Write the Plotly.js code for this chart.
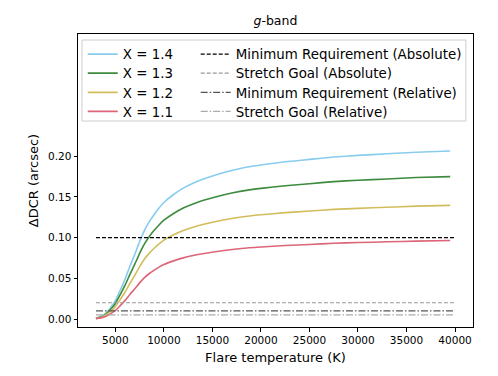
<!DOCTYPE html>
<html>
<head>
<meta charset="utf-8">
<script src="https://cdn.plot.ly/plotly-3.0.1.min.js"></script>
<style>html,body{margin:0;padding:0;background:#fff;}#chart{width:498px;height:376px;}</style>
</head>
<body>
<div id="chart"></div>
<script>
// Flare temperature (K)
const temps = [3000, 3500, 4000, 4500, 5000, 5500, 6000, 6500, 7000, 7500, 8000, 8500, 9000, 9500, 10000, 11000, 12000, 13000, 14000, 16000, 18000, 20000, 22500, 25000, 27500, 30000, 33000, 36000, 39500];
// ΔDCR (arcsec) per airmass
const dcrX14 = [0.001, 0.003, 0.007, 0.014, 0.0225, 0.0353, 0.049, 0.0647, 0.0794, 0.0951, 0.1088, 0.1196, 0.1284, 0.1362, 0.1431, 0.1529, 0.1607, 0.1666, 0.1715, 0.1793, 0.1852, 0.1891, 0.1931, 0.196, 0.1989, 0.2009, 0.2029, 0.2048, 0.2063];
const dcrX13 = [0.0008, 0.0025, 0.0058, 0.0116, 0.0191, 0.0299, 0.0416, 0.0548, 0.0673, 0.0806, 0.0922, 0.1014, 0.1089, 0.1155, 0.1213, 0.1296, 0.1363, 0.1413, 0.1454, 0.1521, 0.1571, 0.1604, 0.1637, 0.1662, 0.1687, 0.1704, 0.172, 0.1737, 0.1749];
const dcrX12 = [0.0007, 0.002, 0.0046, 0.0093, 0.0152, 0.0239, 0.0332, 0.0438, 0.0537, 0.0643, 0.0736, 0.0809, 0.0869, 0.0922, 0.0968, 0.1034, 0.1087, 0.1127, 0.116, 0.1213, 0.1253, 0.128, 0.1306, 0.1326, 0.1346, 0.1359, 0.1372, 0.1386, 0.1396];
const dcrX11 = [0.0005, 0.0014, 0.0032, 0.0064, 0.0105, 0.0165, 0.0229, 0.0302, 0.0371, 0.0444, 0.0508, 0.0559, 0.06, 0.0637, 0.0669, 0.0714, 0.0751, 0.0779, 0.0802, 0.0838, 0.0866, 0.0884, 0.0902, 0.0916, 0.093, 0.0939, 0.0948, 0.0957, 0.0964];
const seriesNames = ["X = 1.4", "X = 1.3", "X = 1.2", "X = 1.1"];
// requirement levels
const reqNames = ["Minimum Requirement (Absolute)", "Stretch Goal (Absolute)", "Minimum Requirement (Relative)", "Stretch Goal (Relative)"];
const reqValues = [0.10, 0.02, 0.01, 0.005];
const reqRange = [3000, 40000];
const yTicks = [0, 0.05, 0.10, 0.15, 0.20];
const xTicks = [5000, 10000, 15000, 20000, 25000, 30000, 35000, 40000];

const curveColors = ["#88ccee", "#3d8b3d", "#d2bd5c", "#dc6677"];
const reqStyles = [
  {color: "#000000", dash: "4px,2px"},
  {color: "#999999", dash: "4px,2px"},
  {color: "#555555", dash: "7px,2px,1.5px,2px"},
  {color: "#aaaaaa", dash: "7px,2px,1.5px,2px"}
];
const curves = [dcrX14, dcrX13, dcrX12, dcrX11];

const font = "DejaVu Sans, sans-serif";
const legendFont = {family: font, size: 13.4, color: "#000"};
const rowY = [0.9833, 0.9184, 0.8526, 0.7877];
const colX = [0.012, 0.298];

const traces = [];
const legends = {};
function legendId(k) { return k === 0 ? "legend" : "legend" + (k + 1); }
for (let i = 0; i < 4; i++) {
  traces.push({
    x: temps, y: curves[i], mode: "lines", name: seriesNames[i], legend: legendId(i),
    line: {color: curveColors[i], width: 1.6, shape: "spline", smoothing: 0.6}
  });
  legends[legendId(i)] = {x: colX[0], y: rowY[i]};
}
for (let i = 0; i < 4; i++) {
  traces.push({
    x: reqRange, y: [reqValues[i], reqValues[i]], mode: "lines", name: reqNames[i], legend: legendId(i + 4),
    line: {color: reqStyles[i].color, width: 1.2, dash: reqStyles[i].dash}
  });
  legends[legendId(i + 4)] = {x: colX[1], y: rowY[i]};
}

const layout = {
  width: 498, height: 376,
  margin: {l: 78, r: 25, t: 34, b: 49},
  paper_bgcolor: "#ffffff", plot_bgcolor: "#ffffff",
  font: {family: font, size: 11, color: "#000"},
  title: {text: "<i>g</i>-band", font: {family: font, size: 12.5, color: "#000"}, x: 0.553, xanchor: "center", y: 0.945, yanchor: "middle"},
  showlegend: true,
  shapes: [{
    type: "rect", xref: "paper", yref: "paper", x0: 0.0101, x1: 0.982, y0: 0.703, y1: 0.9795,
    line: {color: "#cccccc", width: 1}, fillcolor: "rgba(255,255,255,0.8)", layer: "below"
  }],
  xaxis: {
    range: [1150, 41850], tickvals: xTicks, ticktext: xTicks.map(String),
    showgrid: false, zeroline: false, showline: true, mirror: true, linecolor: "#000", linewidth: 1,
    ticks: "outside", ticklen: 3.5, tickwidth: 1, tickcolor: "#000",
    tickfont: {family: font, size: 10.5},
    title: {text: "Flare temperature (K)", font: {family: font, size: 13}, standoff: 7}
  },
  yaxis: {
    range: [-0.0098, 0.350], tickvals: yTicks, ticktext: yTicks.map(v => v.toFixed(2)),
    showgrid: false, zeroline: false, showline: true, mirror: true, linecolor: "#000", linewidth: 1,
    ticks: "outside", ticklen: 3.5, tickwidth: 1, tickcolor: "#000",
    tickfont: {family: font, size: 10.5},
    title: {text: "ΔDCR (arcsec)", font: {family: font, size: 13}, standoff: 6}
  }
};
for (const k in legends) {
  layout[k] = {
    orientation: "v", x: legends[k].x, y: legends[k].y, xanchor: "left", yanchor: "top",
    bgcolor: "rgba(0,0,0,0)", borderwidth: 0, font: legendFont
  };
}
Plotly.newPlot("chart", traces, layout, {staticPlot: true, displayModeBar: false});
</script>
</body>
</html>
